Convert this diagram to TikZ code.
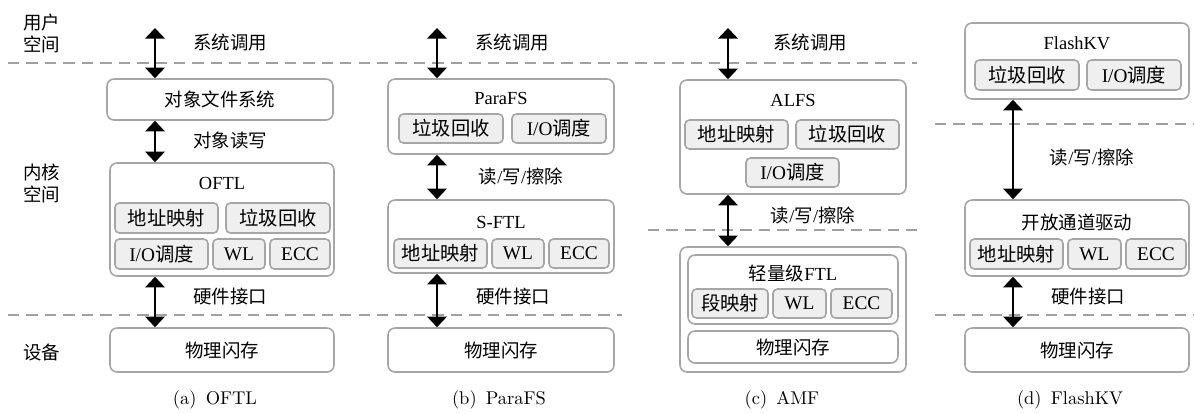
\documentclass[tikz,border=0pt]{standalone}
\usepackage{fontspec}
\newfontfamily\tnr{Liberation Serif}
\newfontfamily\cjk{Noto Sans CJK SC}
\newcommand{\zh}[1]{{\cjk #1}}
\usetikzlibrary{arrows.meta}
\definecolor{boxgray}{HTML}{A6A6A6}
\definecolor{subfill}{HTML}{EFEFEF}
\definecolor{dashgray}{HTML}{A0A0A0}

\begin{document}
\begin{tikzpicture}[x=0.02cm,y=-0.02cm,
  every node/.style={inner sep=0pt, font=\tnr\fontsize{10.5}{12.5}\selectfont},
  wh/.style 2 args={minimum width=#1*0.02cm, minimum height=#2*0.02cm},
  outer/.style={draw=boxgray, line width=0.9pt, rounded corners=4pt, fill=white},
  sub/.style={draw=boxgray, line width=0.9pt, rounded corners=2.5pt, fill=subfill,
    font=\tnr\fontsize{11}{13}\selectfont},
  sep/.style={draw=dashgray, line width=0.8pt, dash pattern=on 6.5pt off 4pt},
  io/.style={line width=1.3pt,
    {Triangle[width=11pt,length=6pt]}-{Triangle[width=11pt,length=6pt]}},
  caption/.style={font=\fontsize{10.5}{12.5}\selectfont}]
\useasboundingbox (0,0) rectangle (1194,413);

% layer separators
\draw[sep] (8,63) -- (917,63);
\draw[sep] (8,315) -- (622,315);
\draw[sep] (648,230) -- (917,230);
\draw[sep] (935,124) -- (1194,124);
\draw[sep] (935,315) -- (1194,315);

% layer names
\node[align=center] (user) at (42,33) {\zh{用户}\\\zh{空间}};
\node[align=center] (kernel) at (42,183) {\zh{内核}\\\zh{空间}};
\node (dev) at (42,352) {\zh{设备}};

% (a) OFTL
\node[outer, wh={226}{41}] (aobj) at (220,99.5) {\zh{对象文件系统}};
\node[outer, wh={224}{113}] (aftl) at (222,219.5) {};
\node (aftlt) at (222,183) {OFTL};
\node[sub, wh={103}{30}] (amap) at (166.5,218) {\zh{地址映射}};
\node[sub, wh={104}{30}] (agc) at (278,218) {\zh{垃圾回收}};
\node[sub, wh={93}{30}] (aio) at (161.5,254) {I/O\zh{调度}};
\node[sub, wh={52}{30}] (awl) at (239,254) {WL};
\node[sub, wh={60}{30}] (aecc) at (300,254) {ECC};
\node[outer, wh={224}{44}] (aflash) at (222,350) {\zh{物理闪存}};
\coordinate (atop) at (155,28);
\draw[io] (atop) -- (aobj.north -| atop);
\draw[io] (aobj.south -| atop) -- (aftl.north -| atop);
\draw[io] (aftl.south -| atop) -- (aflash.north -| atop);
\node (asys) at (230,42) {\zh{系统调用}};
\node (arw) at (230,140) {\zh{对象读写}};
\node (ahw) at (230,297) {\zh{硬件接口}};
\node[caption] (acap) at (215,400) {(a)\enspace OFTL};

% (b) ParaFS
\node[outer, wh={226}{75}] (bfs) at (501,116.5) {};
\node (bfst) at (501,98) {ParaFS};
\node[sub, wh={104}{29}] (bgc) at (451,128.5) {\zh{垃圾回收}};
\node[sub, wh={94}{29}] (bio) at (559,128.5) {I/O\zh{调度}};
\node[outer, wh={226}{73}] (bftl) at (501,236.5) {};
\node (bftlt) at (501,222) {S-FTL};
\node[sub, wh={93}{29}] (bmap) at (440.5,253.5) {\zh{地址映射}};
\node[sub, wh={52}{29}] (bwl) at (518,253.5) {WL};
\node[sub, wh={60}{29}] (becc) at (579,253.5) {ECC};
\node[outer, wh={226}{44}] (bflash) at (501,350) {\zh{物理闪存}};
\coordinate (btop) at (437,28);
\draw[io] (btop) -- (bfs.north -| btop);
\draw[io] (bfs.south -| btop) -- (bftl.north -| btop);
\draw[io] (bftl.south -| btop) -- (bflash.north -| btop);
\node (bsys) at (512,42) {\zh{系统调用}};
\node (brw) at (521,176) {\zh{读}/\zh{写}/\zh{擦除}};
\node (bhw) at (513,297) {\zh{硬件接口}};
\node[caption] (bcap) at (499,400) {(b)\enspace ParaFS};

% (c) AMF
\node[outer, wh={226}{114}] (cfs) at (793,137) {};
\node (cfst) at (793,100) {ALFS};
\node[sub, wh={103}{29}] (cmap) at (736.5,134.5) {\zh{地址映射}};
\node[sub, wh={103}{29}] (cgc) at (847.5,134.5) {\zh{垃圾回收}};
\node[sub, wh={93}{29}] (cio) at (792.5,172.5) {I/O\zh{调度}};
\node[outer, wh={226}{125}] (cdev) at (793,309.5) {};
\node[outer, wh={210}{69}] (cftl) at (793,289.5) {};
\node (cftlt) at (793,273) {\zh{轻量级}FTL};
\node[sub, wh={76}{29}] (cseg) at (730,303.5) {\zh{段映射}};
\node[sub, wh={53}{29}] (cwl) at (799.5,303.5) {WL};
\node[sub, wh={61}{29}] (cecc) at (861.5,303.5) {ECC};
\node[outer, wh={210}{32}] (cflash) at (793,347) {\zh{物理闪存}};
\coordinate (ctop) at (728,28);
\draw[io] (ctop) -- (cfs.north -| ctop);
\draw[io] (cfs.south -| ctop) -- (cdev.north -| ctop);
\node (csys) at (810,42) {\zh{系统调用}};
\node (crw) at (813,215) {\zh{读}/\zh{写}/\zh{擦除}};
\node[caption] (ccap) at (782,400) {(c)\enspace AMF};

% (d) FlashKV
\node[outer, wh={224}{76}] (dkv) at (1077,61) {};
\node (dkvt) at (1077,43) {FlashKV};
\node[sub, wh={104}{30}] (dgc) at (1027,75) {\zh{垃圾回收}};
\node[sub, wh={94}{30}] (dio) at (1134,75) {I/O\zh{调度}};
\node[outer, wh={224}{76}] (ddrv) at (1077,238) {};
\node (ddrvt) at (1077,222) {\zh{开放通道驱动}};
\node[sub, wh={93}{30}] (dmap) at (1016.5,254) {\zh{地址映射}};
\node[sub, wh={53}{30}] (dwl) at (1094.5,254) {WL};
\node[sub, wh={60}{30}] (decc) at (1156,254) {ECC};
\node[outer, wh={224}{44}] (dflash) at (1077,350) {\zh{物理闪存}};
\coordinate (dcol) at (1013,0);
\draw[io] (dkv.south -| dcol) -- (ddrv.north -| dcol);
\draw[io] (ddrv.south -| dcol) -- (dflash.north -| dcol);
\node (drw) at (1092,157) {\zh{读}/\zh{写}/\zh{擦除}};
\node (dhw) at (1088,297) {\zh{硬件接口}};
\node[caption] (dcap) at (1070,400) {(d)\enspace FlashKV};
\end{tikzpicture}
\end{document}
